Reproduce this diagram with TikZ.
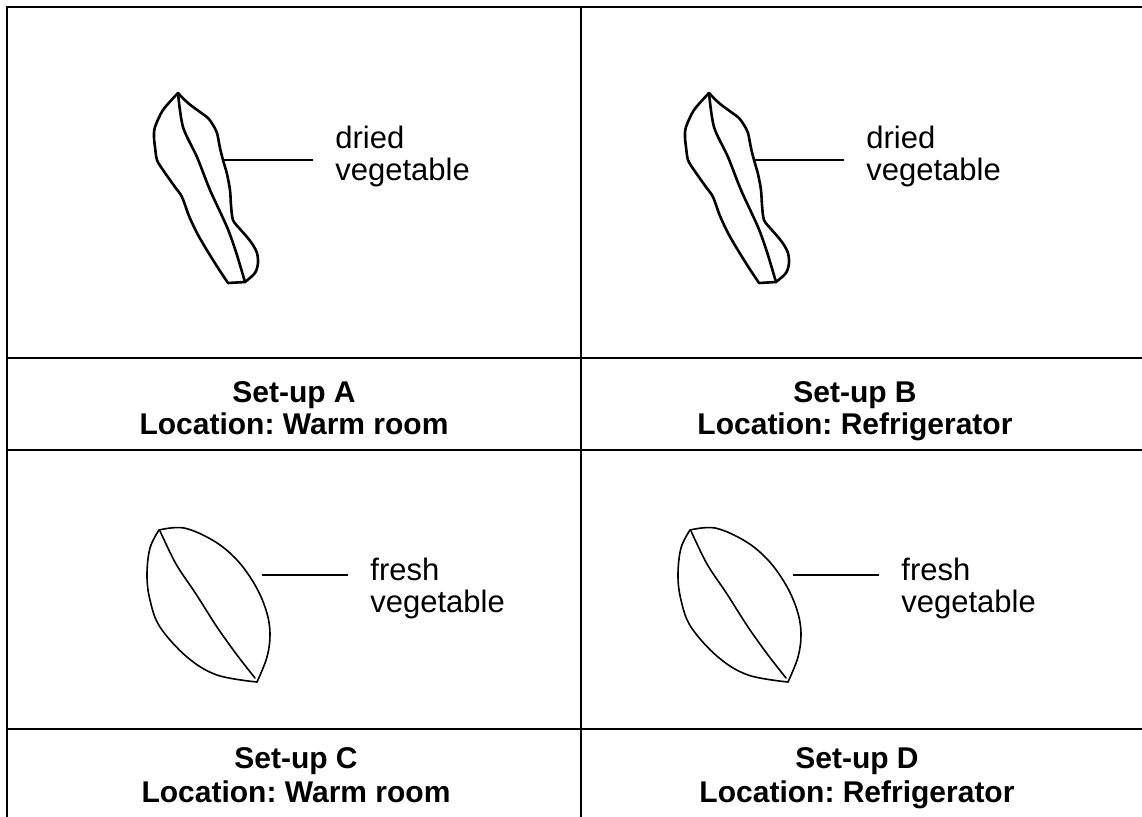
\documentclass[tikz,border=0pt]{standalone}
\usepackage{fontspec}
\setmainfont{Liberation Sans}
\usetikzlibrary{positioning}
\frenchspacing

\tikzset{
  grid/.style={line width=1pt},
  dried/.style={line width=1.3pt, line join=round, line cap=round},
  fresh/.style={line width=0.8pt, line join=round, line cap=round},
  pointer/.style={line width=0.8pt},
  lbl/.style={anchor=west, align=left, inner xsep=11pt, font=\fontsize{15.5}{16}\selectfont},
  title/.style={align=center, font=\bfseries\fontsize{15}{16}\selectfont},
  titlec/.style={title, font=\bfseries\fontsize{15}{17}\selectfont},
}

\begin{document}
\begin{tikzpicture}[x=0.5pt,y=-0.5pt]
	\clip (0,0) rectangle (1142,816);

	% Table lines
	\draw[grid] (7,860) -- (7,7) -- (1160,7);
	\draw[grid] (581,7) -- (581,860);
	\foreach \y in {358,450,729}
		\draw[grid] (7,\y) -- (1160,\y);

	% Dried vegetables (set-ups A and B)
	\foreach \dx/\n in {0/A,531/B} {
		\begin{scope}[xshift=\dx/2]
			\draw[dried] plot[smooth, tension=0.5] coordinates {(178,93) (188,103) (200,112) (208,118) (213,125) (217,133) (220,148) (223,160) (227,174) (230,190) (231,205) (233,220) (240,229) (247,237) (253,245) (257,253) (258,263) (255,273) (245,282)}
				-- (228,283)
				plot[smooth, tension=0.5] coordinates {(228,283) (220,271) (213,260) (205,247) (197,233) (189,216) (182,197) (175,187) (163,170) (157,160) (155,147) (154,137) (155,127) (163,110) (178,93)};
			\draw[dried] plot[smooth, tension=0.5] coordinates {(178,93) (183,127) (197,157) (210,190) (227,227) (236,252) (245,282)};
			\coordinate (leaf\n) at (223,160);
			\node[lbl] (lbl\n) at (313,156) {dried\\vegetable};
		\end{scope}
		\draw[pointer] (leaf\n) -- (leaf\n -| lbl\n.west);
	}

	% Fresh vegetables (set-ups C and D)
	\foreach \dx/\n in {0/C,531/D} {
		\begin{scope}[xshift=\dx/2]
			\draw[fresh] plot[smooth, tension=0.6] coordinates {(159,530) (184,528) (214,541) (237,560) (255,585) (266,610) (270,633) (267,657) (257,682)};
			\draw[fresh] plot[smooth, tension=0.6] coordinates {(257,682) (217,675) (187,657) (160,627) (150,600) (147,575) (150,548) (159,530)};
			\draw[fresh] plot[smooth, tension=0.5] coordinates {(160,531) (176,564) (196,594) (217,627) (237,655) (255,678)};
			\coordinate (leaf\n) at (262,575);
			\node[lbl] (lbl\n) at (348,588) {fresh\\vegetable};
		\end{scope}
		\draw[pointer] (leaf\n) -- (leaf\n -| lbl\n.west);
	}

	% Set-up titles
	\node[title] (titleA) at (294,412) {Set-up A\strut\\Location: Warm room\strut};
	\node[title] (titleB) at (855,412) {Set-up B\strut\\Location: Refrigerator\strut};
	\node[titlec] (titleC) at (296,779) {Set-up C\strut\\Location: Warm room\strut};
	\node[titlec] (titleD) at (857,779) {Set-up D\strut\\Location: Refrigerator\strut};
\end{tikzpicture}
\end{document}
